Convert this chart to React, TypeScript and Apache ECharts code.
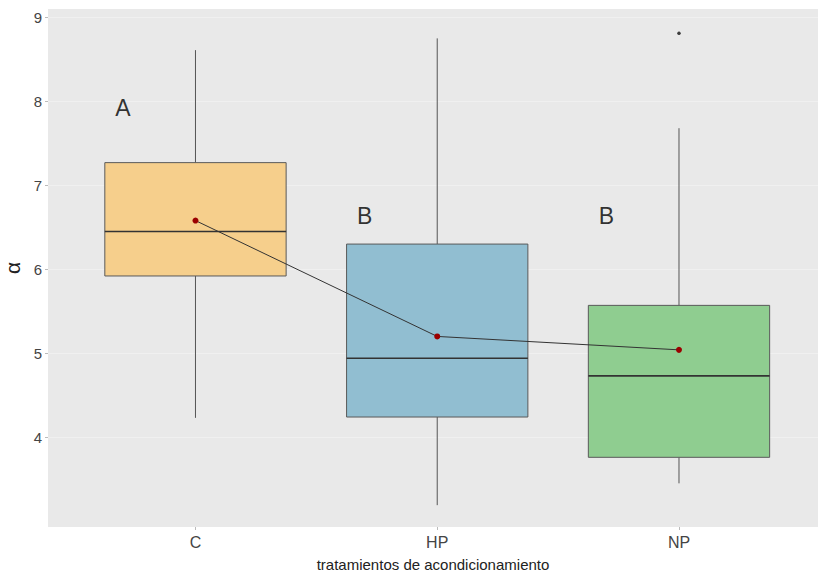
import React, { useEffect, useRef } from "react";
import * as echarts from "echarts";

const categories = ["C", "HP", "NP"];
const whiskerLow = [4.23, 3.19, 3.45];
const q1 = [5.92, 4.24, 3.76];
const median = [6.45, 4.94, 4.73];
const q3 = [7.27, 6.3, 5.57];
const whiskerHigh = [8.61, 8.75, 7.68];
const means = [6.58, 5.2, 5.04];
const boxColors = ["#f6cf8c", "#91bed1", "#8fcd90"];
const outliers = [{ cat: "NP", value: 8.81 }];
const letters = ["A", "B", "B"];
const letterY = [7.92, 6.63, 6.63];
const yTicks = [4, 5, 6, 7, 8, 9];

export default function App() {
  const ref = useRef<HTMLDivElement>(null);
  useEffect(() => {
    if (!ref.current) return;
    const chart = echarts.init(ref.current, undefined, { renderer: "svg" });
    const font = "Liberation Sans, Arial, sans-serif";
    const boxData = categories.map((c, i) => [
      i + 1,
      whiskerLow[i],
      q1[i],
      median[i],
      q3[i],
      whiskerHigh[i],
      i,
    ]);
    const halfW = 0.375;
    chart.setOption({
      animation: false,
      backgroundColor: "#ffffff",
      textStyle: { fontFamily: font },
      grid: {
        left: 48,
        right: 0,
        top: 9,
        bottom: 48,
        show: true,
        backgroundColor: "#e9e9e9",
        borderWidth: 0,
        outerBoundsMode: "none",
        containLabel: false,
      },
      xAxis: {
        type: "value",
        min: 0.39,
        max: 3.575,
        axisLine: { show: false },
        splitLine: { show: false },
        axisTick: {
          show: true,
          customValues: [1, 2, 3],
          length: 3,
          lineStyle: { color: "#bbbbbb" },
        },
        axisLabel: {
          customValues: [1, 2, 3],
          formatter: (v: number) => categories[Math.round(v) - 1] ?? "",
          fontSize: 16,
          color: "#444444",
          fontFamily: font,
          margin: 7,
        },
        name: "tratamientos de acondicionamiento",
        nameLocation: "middle",
        nameGap: 30,
        nameTextStyle: { fontSize: 15, color: "#222222", fontFamily: font },
      },
      yAxis: {
        type: "value",
        min: 2.93,
        max: 9.1,
        axisLine: { show: false },
        splitLine: { show: false },
        axisTick: {
          show: true,
          customValues: yTicks,
          length: 3,
          lineStyle: { color: "#bbbbbb" },
        },
        axisLabel: {
          customValues: yTicks,
          fontSize: 15,
          color: "#444444",
          fontFamily: font,
          margin: 6,
        },
        name: "α",
        nameLocation: "middle",
        nameRotate: 90,
        nameGap: 16,
        nameTextStyle: { fontSize: 21, color: "#222222", fontFamily: font },
      },
      series: [
        {
          type: "custom",
          z: 2,
          data: boxData,
          renderItem: (params: any, api: any) => {
            const x = api.value(0);
            const lo = api.value(1);
            const a = api.value(2);
            const m = api.value(3);
            const b = api.value(4);
            const hi = api.value(5);
            const idx = api.value(6);
            const pLT = api.coord([x - halfW, b]);
            const pRB = api.coord([x + halfW, a]);
            const pM1 = api.coord([x - halfW, m]);
            const pM2 = api.coord([x + halfW, m]);
            const pHi = api.coord([x, hi]);
            const pLo = api.coord([x, lo]);
            const cx = api.coord([x, b])[0];
            return {
              type: "group",
              children: [
                {
                  type: "line",
                  shape: { x1: cx, y1: pHi[1], x2: cx, y2: pLT[1] },
                  style: { stroke: "#555555", lineWidth: 1 },
                },
                {
                  type: "line",
                  shape: { x1: cx, y1: pRB[1], x2: cx, y2: pLo[1] },
                  style: { stroke: "#555555", lineWidth: 1 },
                },
                {
                  type: "rect",
                  shape: {
                    x: pLT[0],
                    y: pLT[1],
                    width: pRB[0] - pLT[0],
                    height: pRB[1] - pLT[1],
                  },
                  style: {
                    fill: boxColors[idx],
                    stroke: "#5a5a5a",
                    lineWidth: 1,
                  },
                },
                {
                  type: "line",
                  shape: { x1: pM1[0], y1: pM1[1], x2: pM2[0], y2: pM2[1] },
                  style: { stroke: "#333333", lineWidth: 1.6 },
                },
              ],
            };
          },
        },
        {
          type: "line",
          z: 3,
          data: means.map((v, i) => [i + 1, v]),
          symbol: "circle",
          symbolSize: 6,
          itemStyle: { color: "#9b0000" },
          lineStyle: { color: "#333333", width: 1 },
          markLine: {
            silent: true,
            symbol: "none",
            z: 1,
            label: { show: false },
            lineStyle: { color: "#f0f0f0", width: 1, type: "solid" },
            data: yTicks.map((t) => ({ yAxis: t })),
          },
        },
        {
          type: "scatter",
          z: 3,
          data: outliers.map((o) => [categories.indexOf(o.cat) + 1, o.value]),
          symbol: "circle",
          symbolSize: 3.5,
          itemStyle: { color: "#111111" },
        },
        {
          type: "scatter",
          z: 4,
          data: letters.map((l, i) => [i + 0.7, letterY[i], l]),
          symbolSize: 0,
          label: {
            show: true,
            position: "inside",
            formatter: (p: any) => p.value[2],
            fontSize: 23,
            color: "#000000",
            fontFamily: font,
          },
        },
      ],
    });
    return () => chart.dispose();
  }, []);
  return (
    <div
      ref={ref}
      style={{ position: "fixed", left: 0, top: 0, width: 818, height: 575 }}
    />
  );
}
